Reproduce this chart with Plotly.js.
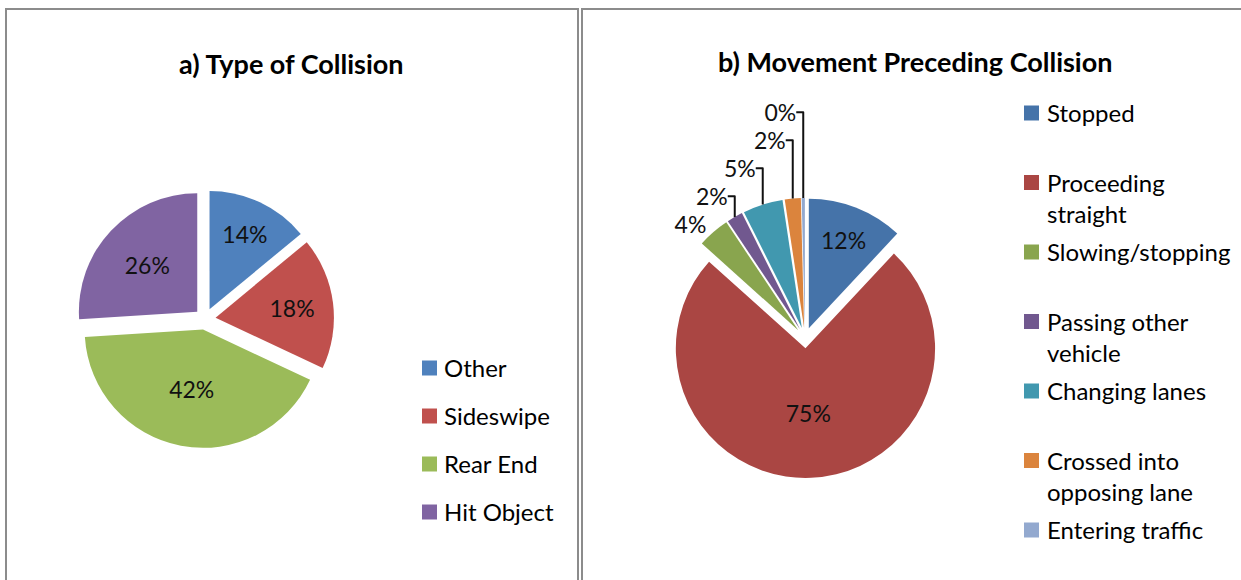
<!DOCTYPE html>
<html>
<head>
<meta charset="utf-8">
<script src="https://cdn.plot.ly/plotly-3.0.1.min.js"></script>
<style>html,body{margin:0;padding:0;background:#fff;}#chart{width:1241px;height:580px;}</style>
</head>
<body>
<div id="chart"></div>
<script>
// ---- Data ----
const titleA = "a) Type of Collision";
const labelsA = ["Other", "Sideswipe", "Rear End", "Hit Object"];
const valuesA = [14, 18, 42, 26];
const colorsA = ["#4F81BD", "#C0504D", "#9BBB59", "#8064A2"];

const titleB = "b) Movement Preceding Collision";
const labelsB = ["Stopped", "Proceeding straight", "Slowing/stopping", "Passing other vehicle",
                 "Changing lanes", "Crossed into opposing lane", "Entering traffic"];
const legendTextB = ["Stopped", "Proceeding<br>straight", "Slowing/stopping", "Passing other<br>vehicle",
                     "Changing lanes", "Crossed into<br>opposing lane", "Entering traffic"];
const valuesB = [12, 75, 4, 2, 5, 2, 0.4];
const colorsB = ["#4573A9", "#AA4643", "#89A54E", "#71588F", "#4198AF", "#DB843D", "#93A9CF"];
const textPosB = ["inside", "inside", "outside", "outside", "outside", "outside", "outside"];

// ---- Helpers (pixel -> paper) ----
const W = 1241, H = 580;
const px = x => x / W;
const py = y => 1 - y / H;
const FONT = "Lato, 'Open Sans', sans-serif";

const traces = [
  {
    type: "pie", labels: labelsA, values: valuesA, sort: false, direction: "clockwise", rotation: 0,
    marker: {colors: colorsA, line: {width: 0}},
    pull: 0.09,
    texttemplate: "%{value:.0f}%", textposition: "inside", insidetextorientation: "horizontal",
    textfont: {family: FONT, size: 23, color: "#111"},
    domain: {x: [px(75), px(335)], y: [py(448), py(190)]},
    hoverinfo: "label+percent", showlegend: false
  },
  {
    type: "pie", labels: labelsB, values: valuesB, sort: false, direction: "clockwise", rotation: 0,
    marker: {colors: colorsB, line: {width: 0}},
    pull: 0.08,
    texttemplate: "%{value:.0f}%", textposition: textPosB, insidetextorientation: "horizontal",
    textfont: {family: FONT, size: 23, color: "#111"},
    outsidetextfont: {family: FONT, size: 23, color: "#111"},
    domain: {x: [px(655), px(955)], y: [py(478), py(198)]},
    hoverinfo: "label+percent", showlegend: false
  }
];

const annotations = [
  {text: "<b>" + titleA + "</b>", x: px(291), y: py(63), xref: "paper", yref: "paper",
   xanchor: "center", yanchor: "middle", showarrow: false, font: {family: FONT, size: 27, color: "#000"}},
  {text: "<b>" + titleB + "</b>", x: px(915), y: py(61), xref: "paper", yref: "paper",
   xanchor: "center", yanchor: "middle", showarrow: false, font: {family: FONT, size: 27, color: "#000"}}
];
const shapes = [
  {type: "rect", xref: "paper", yref: "paper", x0: px(6), x1: px(578), y0: py(9), y1: py(600),
   line: {color: "#8c8c8c", width: 2}},
  {type: "rect", xref: "paper", yref: "paper", x0: px(582), x1: px(1250), y0: py(9), y1: py(600),
   line: {color: "#8c8c8c", width: 2}}
];

// Legend A (custom, equal slots)
labelsA.forEach((lab, i) => {
  const yc = 368 + 48 * i;
  shapes.push({type: "rect", xref: "paper", yref: "paper", x0: px(422), x1: px(437),
    y0: py(yc - 7.5), y1: py(yc + 7.5), fillcolor: colorsA[i], line: {width: 0}});
  annotations.push({text: lab, x: px(442), y: py(yc - 17), xref: "paper", yref: "paper",
    xanchor: "left", yanchor: "top", align: "left", showarrow: false,
    font: {family: FONT, size: 24, color: "#000"}});
});
// Legend B (custom, equal slots)
legendTextB.forEach((lab, i) => {
  const yc = 113 + 69.5 * i;
  shapes.push({type: "rect", xref: "paper", yref: "paper", x0: px(1024), x1: px(1039),
    y0: py(yc - 7.5), y1: py(yc + 7.5), fillcolor: colorsB[i], line: {width: 0}});
  annotations.push({text: lab, x: px(1045), y: py(yc - 17), xref: "paper", yref: "paper",
    xanchor: "left", yanchor: "top", align: "left", showarrow: false,
    font: {family: FONT, size: 24, color: "#000"}});
});

const layout = {
  width: W, height: H,
  margin: {l: 0, r: 0, t: 0, b: 0},
  paper_bgcolor: "#ffffff",
  showlegend: false,
  annotations: annotations,
  shapes: shapes,
  font: {family: FONT}
};

Plotly.newPlot("chart", traces, layout, {displayModeBar: false, staticPlot: true});
</script>
</body>
</html>
